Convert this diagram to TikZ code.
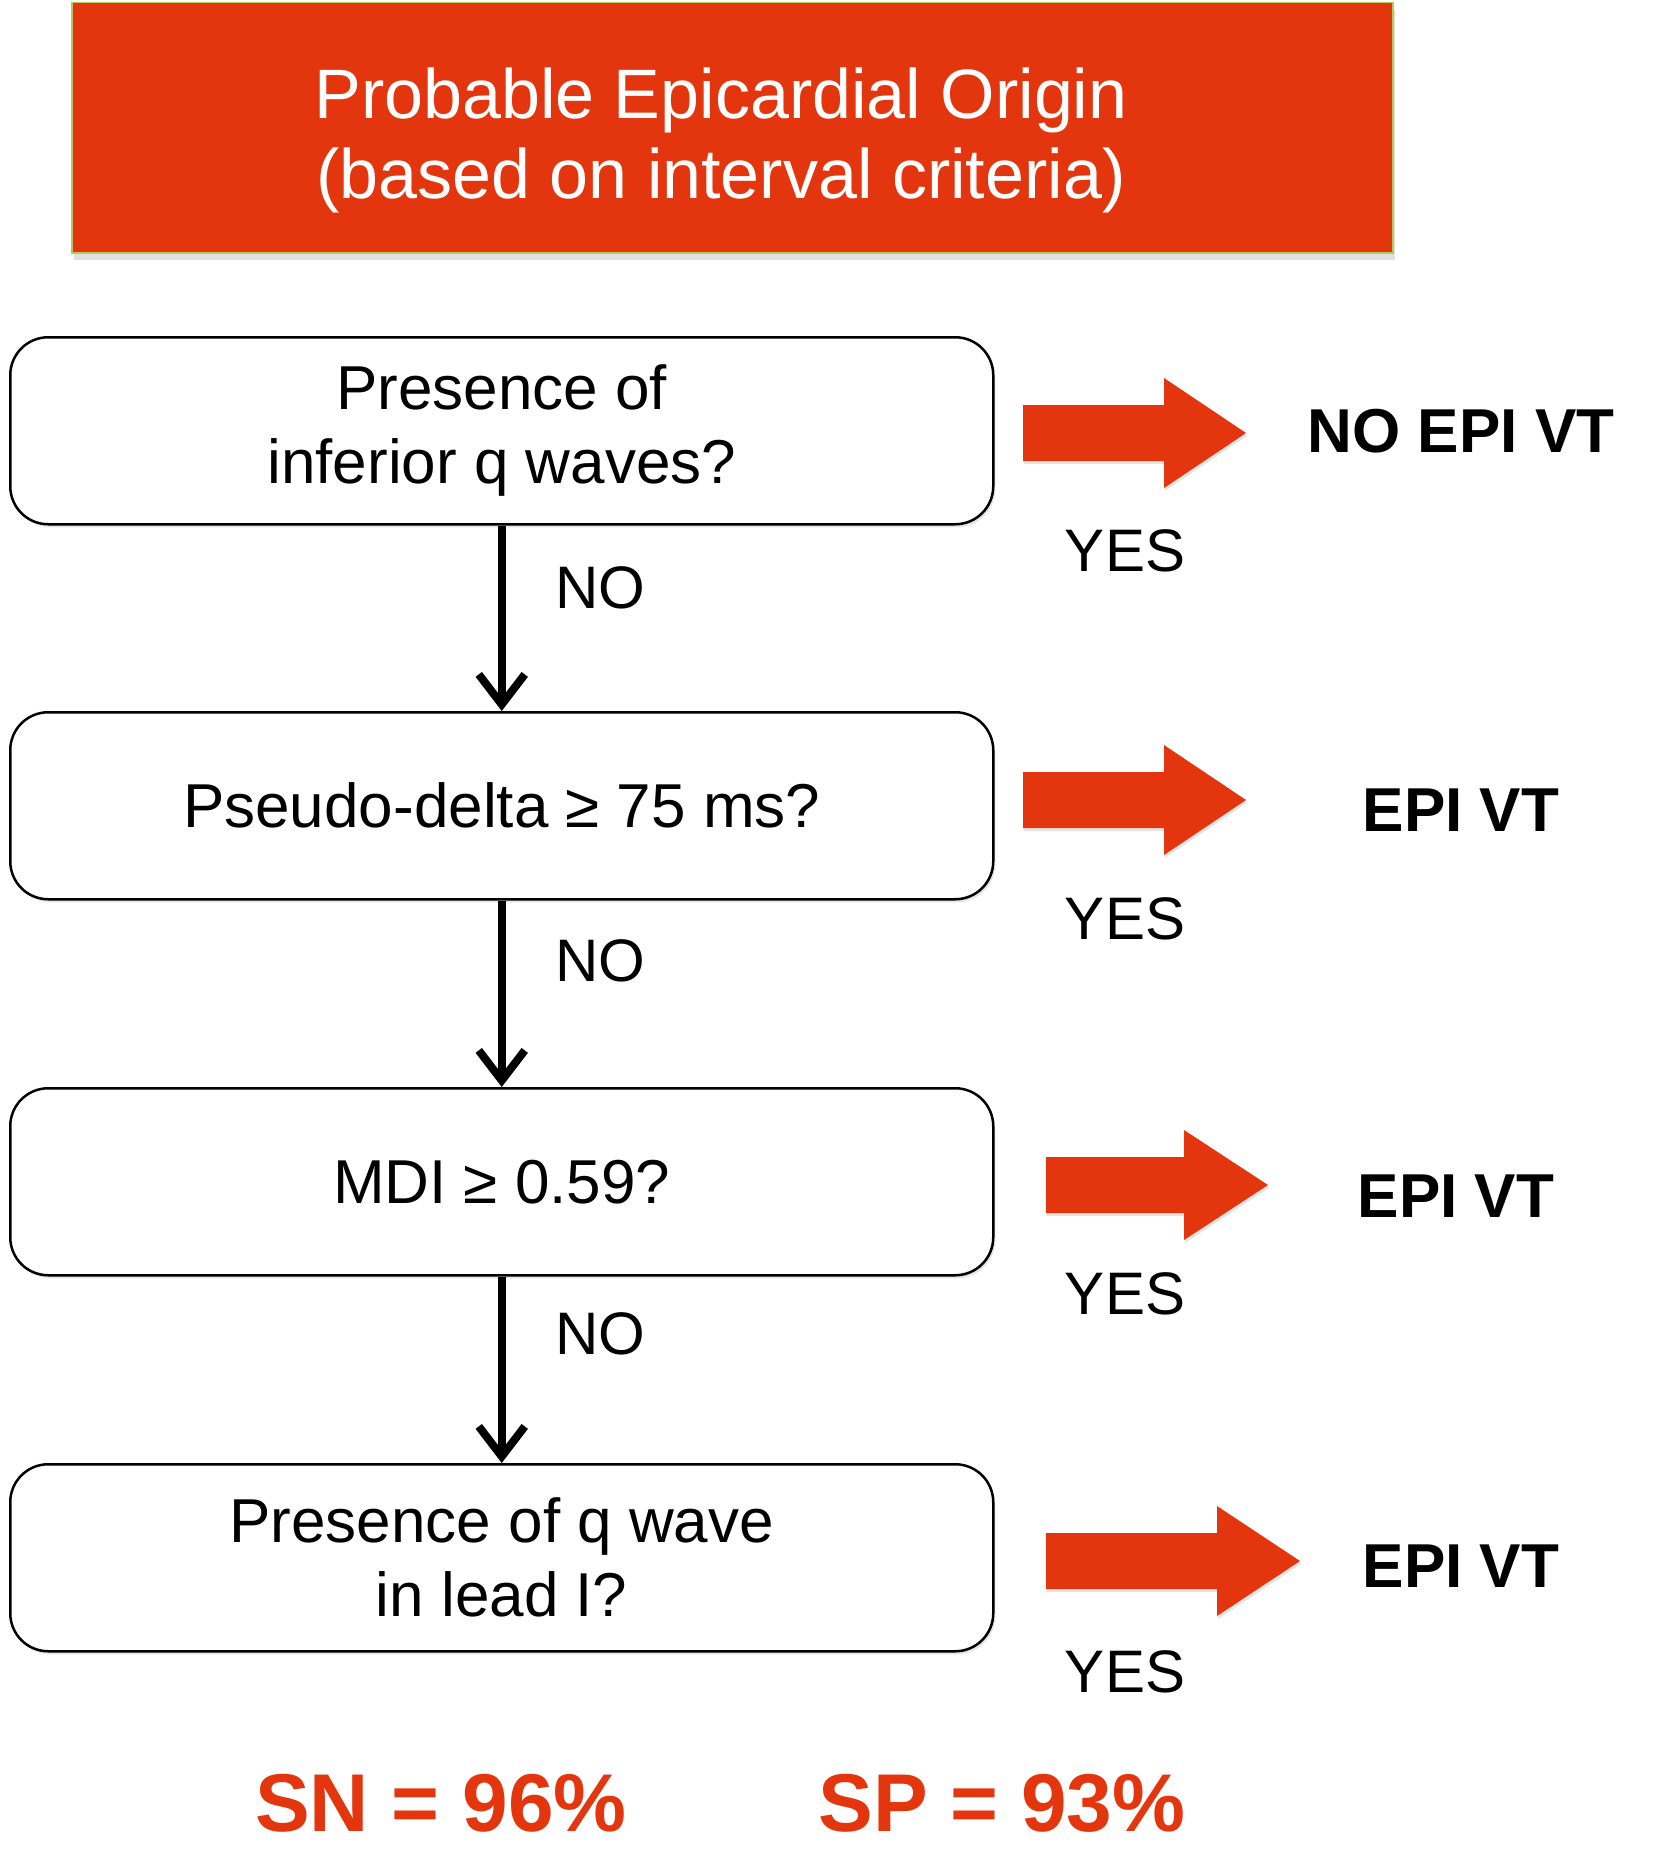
\documentclass[tikz,border=0pt]{standalone}
\usepackage{fontspec}
\setmainfont{Liberation Sans}
\usetikzlibrary{arrows.meta,shadows}
\definecolor{redc}{HTML}{E3360E}
\definecolor{hdrline}{HTML}{B9C85A}
\newcommand\bigarrow[4]{%
  \fill[redc, drop shadow={shadow xshift=1pt, shadow yshift=-3pt, fill=gray!35, opacity=0.6}]
    (#1,#4-28) -- (#2,#4-28) -- (#2,#4-55) -- (#3,#4) -- (#2,#4+55) -- (#2,#4+28) -- (#1,#4+28) -- cycle;}
\begin{document}
\begin{tikzpicture}[x=1pt,y=-1pt,
  hdr/.style={draw=hdrline, line width=1.5pt, fill=redc, anchor=north west,
    minimum width=1321pt, minimum height=250pt, inner sep=0pt,
    drop shadow={shadow xshift=2pt, shadow yshift=-7pt, fill=gray!40, opacity=0.6}},
  hdrtext/.style={text=white, align=center, inner sep=0pt, font=\fontsize{70}{80}\selectfont},
  qbox/.style={draw=black, line width=2.5pt, rounded corners=38pt, fill=white,
    minimum width=983pt, minimum height=187pt, inner sep=0pt, align=center, anchor=north west,
    font=\fontsize{62}{74}\selectfont,
    drop shadow={shadow xshift=2pt, shadow yshift=-3pt, fill=gray!40, opacity=0.5}},
  lbl/.style={anchor=base, font=\fontsize{60}{72}\selectfont},
  res/.style={anchor=base, font=\fontsize{62}{72}\selectfont\bfseries},
  stat/.style={anchor=base, text=redc, font=\fontsize{82}{94}\selectfont\bfseries},
  down/.style={line width=7.5pt, -{Straight Barb[length=30pt, width=46pt, line width=8pt]}}
]
\useasboundingbox (0,0) rectangle (1660,1852);

\node[hdr] (title) at (71,2) {};
\node[hdrtext] (titletext) at (721,140) {Probable Epicardial Origin\\(based on interval criteria)};

\node[qbox] (q1) at (9,336) {Presence of\\inferior q waves?};
\node[qbox] (q2) at (9,711) {Pseudo-delta ≥ 75 ms?};
\node[qbox] (q3) at (9,1087) {MDI ≥ 0.59?};
\node[qbox] (q4) at (9,1463) {Presence of q wave\\in lead I?};

\draw[down] (q1.south) -- (q2.north);
\draw[down] (q2.south) -- (q3.north);
\draw[down] (q3.south) -- (q4.north);

\node[lbl] (no1) at (600,608) {NO};
\node[lbl] (no2) at (600,981) {NO};
\node[lbl] (no3) at (600,1354) {NO};

\bigarrow{1023}{1164}{1246}{433}
\bigarrow{1023}{1164}{1246}{800}
\bigarrow{1046}{1184}{1268}{1185}
\bigarrow{1046}{1217}{1300}{1561}

\node[lbl] (yes1) at (1125,571) {YES};
\node[lbl] (yes2) at (1125,939) {YES};
\node[lbl] (yes3) at (1125,1314) {YES};
\node[lbl] (yes4) at (1125,1692) {YES};

\node[res] (r1) at (1461,452) {NO EPI VT};
\node[res] (r2) at (1461,831) {EPI VT};
\node[res] (r3) at (1456,1217) {EPI VT};
\node[res] (r4) at (1461,1587) {EPI VT};

\node[stat] (sn) at (441,1831) {SN = 96\%};
\node[stat] (sp) at (1002,1831) {SP = 93\%};
\end{tikzpicture}
\end{document}
